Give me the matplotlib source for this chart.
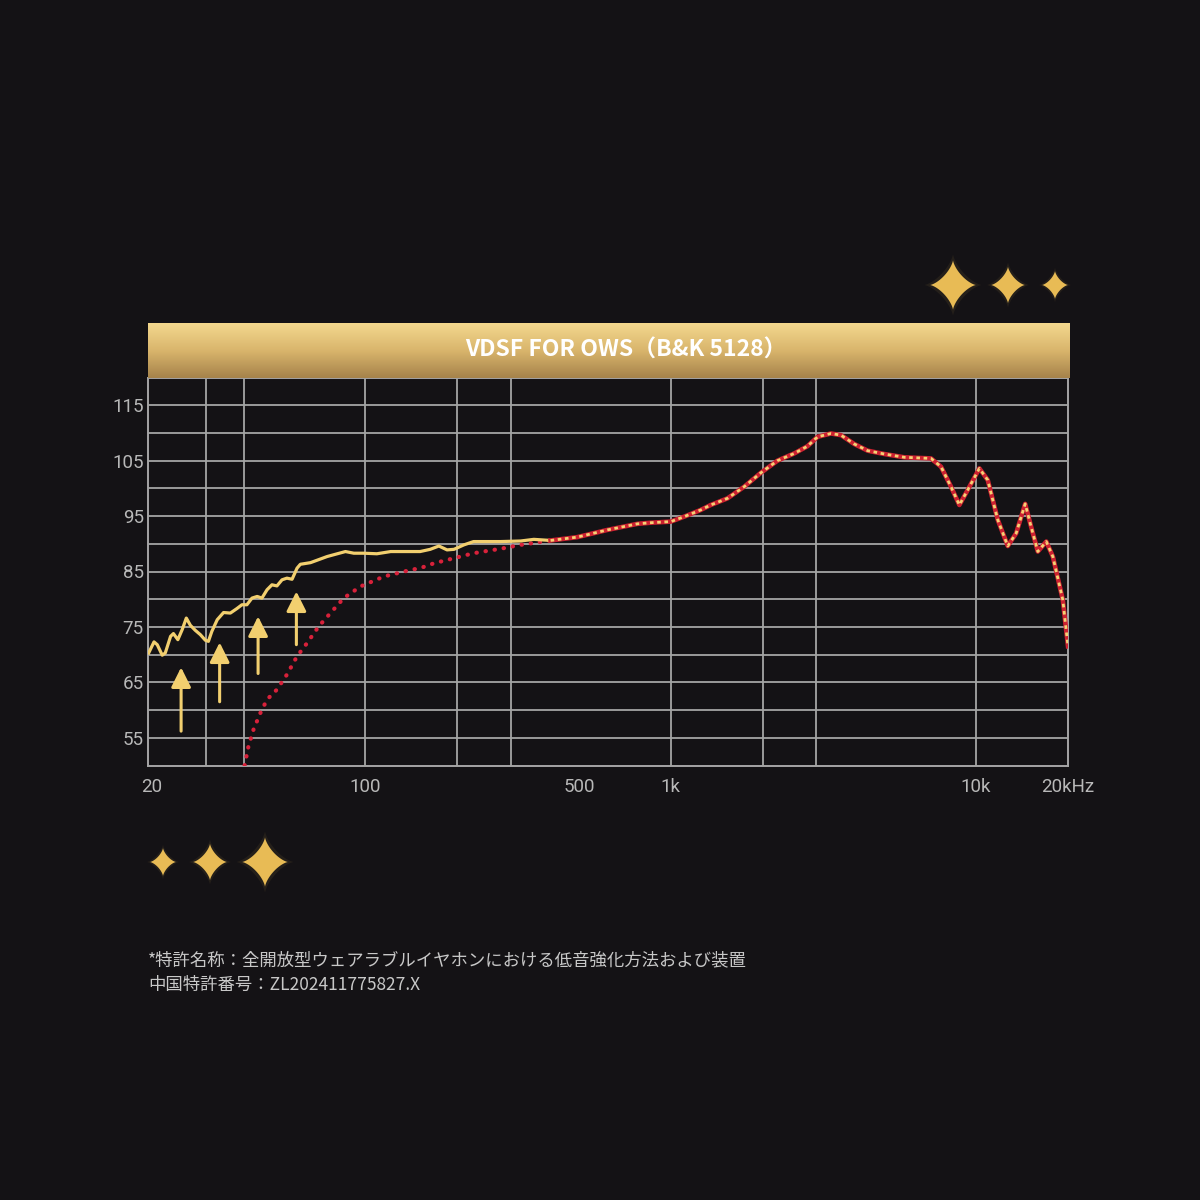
import numpy as np
import matplotlib
matplotlib.use("Agg")
import matplotlib.pyplot as plt
from matplotlib.colors import LinearSegmentedColormap

plt.rcParams['font.family'] = ['Noto Sans CJK JP', 'DejaVu Sans']

# enhanced (VDSF) low end, gold solid line
gold_freq = [19.5, 20.3, 20.8, 21.6, 22.1, 23.0, 23.5, 24.3, 25.1, 25.9, 26.7, 27.7, 28.8,
             29.9, 30.6, 31.4, 32.7, 34.3, 36.1, 37.9, 39.4, 40.9, 42.5, 44.2, 45.8, 47.6,
             49.4, 51.3, 53.3, 55.3, 57.5, 59.7, 61.2, 66.1, 74.9, 86.0, 91.6, 98.7, 109,
             121, 137, 151, 163, 174, 185, 195, 210, 226, 277, 322, 356, 404]
gold_db = [70.3, 72.3, 71.8, 69.9, 70.3, 73.3, 73.8, 72.7, 74.5, 76.6, 75.3, 74.4, 73.6,
           72.6, 72.4, 74.2, 76.3, 77.6, 77.5, 78.3, 79.0, 79.0, 80.2, 80.5, 80.2, 81.7,
           82.6, 82.4, 83.5, 83.8, 83.6, 85.6, 86.3, 86.6, 87.7, 88.6, 88.3, 88.3, 88.2,
           88.6, 88.6, 88.6, 89.0, 89.6, 88.9, 89.0, 89.8, 90.4, 90.4, 90.5, 90.8, 90.6]

# original low end, red dotted line
orig_freq = [40.2, 41.4, 43.0, 45.3, 47.6, 51.3, 55.3, 59.7, 64.4, 70.3, 76.8, 84.9, 96.3,
             115, 141, 151, 168, 195, 226, 250, 277, 322, 404]
orig_db = [50.0, 53.5, 56.5, 59.5, 61.9, 63.7, 66.4, 69.7, 72.1, 75.1, 77.5, 80.2, 82.3,
           84.1, 85.3, 85.6, 86.5, 87.4, 88.3, 88.7, 89.1, 89.8, 90.6]

# shared part above ~400 Hz
shared_freq = [404, 494, 620, 778, 859, 1000, 1107, 1253, 1352, 1534, 1740, 1972, 2237,
               2537, 2803, 3027, 3348, 3610, 3991, 4414, 5002, 5819, 7119, 7676, 8275,
               8815, 9385, 10250, 10920, 11780, 12700, 13530, 14480, 15140, 15930, 16980,
               17840, 19230, 20000]
shared_db = [90.6, 91.2, 92.5, 93.6, 93.8, 94.0, 94.9, 96.1, 97.0, 98.2, 100.3, 102.8, 105.0,
             106.3, 107.6, 109.3, 109.9, 109.6, 108.0, 106.8, 106.2, 105.6, 105.4, 103.9,
             100.3, 97.0, 99.7, 103.6, 101.5, 94.3, 89.6, 91.9, 97.2, 93.1, 88.6, 90.4,
             87.7, 79.9, 71.5]

# bass boost arrows
arrow_freq = [24.9, 33.3, 44.5, 59.4]
arrow_tail = [56.2, 61.5, 66.6, 71.8]
arrow_tip = [67.7, 72.2, 76.9, 81.4]

x_ticks = [20, 100, 500, 1000, 10000, 20000]
x_labels = ['20', '100', '500', '1k', '10k', '20kHz']
x_grid = [30, 40, 100, 200, 300, 1000, 2000, 3000, 10000]
y_ticks = [55, 65, 75, 85, 95, 105, 115]
y_grid = [55, 60, 65, 70, 75, 80, 85, 90, 95, 100, 105, 110, 115]

title = 'VDSF FOR OWS（B&K 5128）'
note1 = '*特許名称：全開放型ウェアラブルイヤホンにおける低音強化方法および装置'
note2 = '中国特許番号：ZL202411775827.X'

BG = '#141215'
GOLD = '#f2cf6f'
RED = '#d8213a'
GRID = '#a5a5a5'
TICK = '#b8b8b8'
STAR = '#e8bb55'

fig = plt.figure(figsize=(12, 12), dpi=100, facecolor=BG)

# full-figure layer in pixel coords for the sparkles
deco = fig.add_axes([0, 0, 1, 1], zorder=0)
deco.set_xlim(0, 1200)
deco.set_ylim(1200, 0)
deco.axis('off')


def sparkle(cx, cy, r):
    t = np.linspace(0, 2 * np.pi, 200)
    c, s = np.cos(t), np.sin(t)
    for k, a in [(1.25, 0.08), (1.0, 1.0)]:
        xs = cx + k * r * np.sign(c) * np.abs(c) ** 2.8
        ys = cy + k * r * 1.08 * np.sign(s) * np.abs(s) ** 2.8
        deco.fill(xs, ys, color=STAR, alpha=a, lw=0)


for cx, cy, r in [(953, 285, 23), (1008, 285, 17), (1055, 285, 13),
                  (163, 862, 13), (210, 862, 17), (265, 862, 23)]:
    sparkle(cx, cy, r)

# main chart
ax = fig.add_axes([148 / 1200, 1 - 765.5 / 1200, 920 / 1200, 388 / 1200], zorder=2)
ax.set_facecolor(BG)
ax.set_xscale('log')
ax.set_xlim(19.4, 20000)
ax.set_ylim(50, 120)

ax.set_xticks(x_ticks, x_labels)
ax.minorticks_off()
ax.set_yticks(y_ticks)
ax.tick_params(which='both', length=0, colors=TICK)
ax.tick_params(axis='x', pad=9, labelsize=13.5)
ax.tick_params(axis='y', pad=3, labelsize=13.5)
for lab in ax.get_xticklabels() + ax.get_yticklabels():
    lab.set_fontfamily('Roboto')

for g in x_grid:
    ax.axvline(g, color=GRID, lw=1.3, zorder=1)
for g in y_grid:
    ax.axhline(g, color=GRID, lw=1.3, zorder=1)
for sp in ax.spines.values():
    sp.set_color(GRID)
    sp.set_linewidth(1.4)

ax.plot(orig_freq, orig_db, color=RED, lw=3.0, ls=(0, (0.1, 2.1)),
        dash_capstyle='round', zorder=3)
ax.plot(gold_freq, gold_db, color=GOLD, lw=2.3, solid_joinstyle='round', zorder=4)
ax.plot(shared_freq, shared_db, color='#cc2030', lw=3.3, solid_joinstyle='round', zorder=4)
ax.plot(shared_freq, shared_db, color='#f5d274', lw=2.0, ls=(0, (1.3, 1.3)), zorder=5)

for f, lo, hi in zip(arrow_freq, arrow_tail, arrow_tip):
    ax.annotate('', xy=(f, hi), xytext=(f, lo),
                arrowprops=dict(arrowstyle='-|>,head_length=0.6,head_width=0.3',
                                mutation_scale=20, color=GOLD, lw=2.2,
                                shrinkA=0, shrinkB=0))

# gold title bar
tb = fig.add_axes([148 / 1200, 1 - 378 / 1200, 922 / 1200, 55 / 1200], zorder=3)
cm = LinearSegmentedColormap.from_list('bar', ['#f4d88e', '#d9b56c', '#a6834b'])
tb.imshow(np.linspace(0, 1, 100)[:, None], aspect='auto', cmap=cm, extent=[0, 1, 0, 1])
tb.set_xlim(0, 1)
tb.set_ylim(0, 1)
tb.axis('off')
tb.text(0.518, 0.5, title, ha='center', va='center', color='white',
        fontsize=16.5, fontweight='bold')

fig.text(148 / 1200, 1 - 960 / 1200, note1, color='#c8c8c8', fontsize=12.5, va='center')
fig.text(148 / 1200, 1 - 985 / 1200, note2, color='#c8c8c8', fontsize=12.5, va='center')

fig.savefig('out.png', dpi=100, facecolor=BG)
